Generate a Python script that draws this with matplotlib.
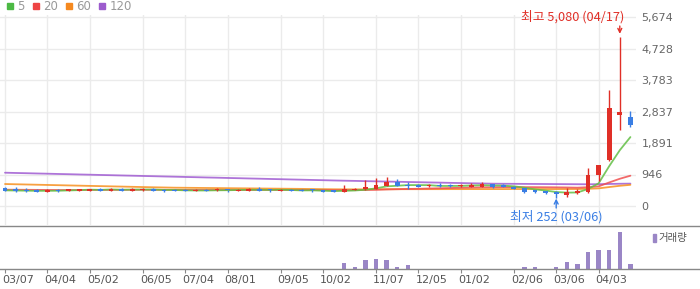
import matplotlib
matplotlib.use("Agg")
import matplotlib.pyplot as plt
import matplotlib.transforms as mtransforms
from matplotlib.lines import Line2D
from matplotlib.patches import Rectangle

plt.rcParams['font.family'] = ['DejaVu Sans']
KR = ['Noto Sans CJK KR', 'DejaVu Sans']

# ---------------- data (weekly candles) ----------------
opens = [540, 500, 480, 490, 430, 490, 460, 460, 460, 520, 460, 520, 460, 490, 520, 490,
         490, 490, 460, 490, 470, 480, 460, 460, 520, 480, 460, 490, 490, 490, 470, 470,
         420, 480, 500, 510, 600, 720, 640, 640, 590, 620, 620, 600, 580, 580, 660, 640,
         580, 530, 470, 440, 410, 340, 380, 430, 940, 1380, 2740, 2664]
highs = [560, 560, 530, 500, 500, 520, 520, 520, 520, 530, 530, 530, 530, 530, 530, 520,
         500, 500, 500, 500, 530, 490, 500, 530, 560, 520, 500, 500, 500, 500, 480, 480,
         630, 530, 780, 840, 880, 810, 720, 650, 650, 680, 650, 650, 680, 720, 670, 660,
         590, 540, 480, 450, 450, 550, 500, 1150, 1230, 3480, 5080, 2862]
lows = [440, 420, 410, 420, 420, 430, 450, 450, 450, 450, 450, 450, 450, 460, 450, 430,
        450, 450, 450, 450, 440, 420, 450, 450, 450, 430, 450, 450, 450, 430, 410, 410,
        410, 470, 490, 500, 590, 590, 510, 570, 560, 560, 560, 560, 570, 570, 550, 570,
        510, 400, 390, 370, 252, 280, 370, 400, 750, 1350, 2280, 2363]
closes = [450, 450, 460, 430, 490, 460, 500, 500, 500, 460, 520, 460, 520, 510, 460, 460,
          460, 460, 490, 460, 490, 470, 490, 520, 460, 470, 490, 460, 460, 470, 420, 420,
          510, 510, 580, 630, 720, 600, 610, 580, 620, 600, 600, 620, 640, 660, 560, 580,
          520, 430, 410, 380, 360, 420, 460, 930, 1230, 2940, 2820, 2430]
volumes = [0, 0, 0, 0, 0, 0, 0, 0, 0, 0, 0, 0, 0, 0, 0, 0,
           0, 0, 0, 0, 0, 0, 0, 0, 0, 0, 0, 0, 0, 0, 0, 0,
           570, 130, 830, 930, 830, 130, 330, 0, 0, 0, 0, 0, 0, 0, 0, 0,
           0, 130, 130, 0, 130, 670, 470, 1630, 1830, 1830, 3630, 470]

ma5 = [470, 465, 460, 455, 456, 458, 468, 476, 490, 484, 496, 488, 492, 494, 494, 482,
       482, 470, 466, 466, 472, 474, 480, 486, 486, 482, 486, 480, 468, 470, 460, 446,
       456, 466, 488, 530, 590, 608, 628, 628, 626, 602, 602, 604, 616, 624, 616, 612,
       592, 550, 500, 464, 420, 402, 406, 510, 680, 1196, 1676, 2070]
ma20 = [490, 488, 486, 484, 482, 480, 480, 481, 482, 483, 484, 485, 486, 486, 486, 485,
        484, 483, 482, 482, 482, 481, 481, 482, 482, 482, 482, 481, 480, 478, 476, 474,
        475, 477, 481, 486, 498, 505, 512, 517, 525, 533, 540, 548, 555, 562, 563, 567,
        568, 566, 565, 563, 560, 556, 550, 565, 590, 707, 818, 910]
ma60 = [660, 653, 646, 639, 632, 625, 618, 611, 604, 597, 590, 583, 576, 569, 562, 556,
        550, 547, 544, 541, 538, 535, 532, 529, 526, 523, 520, 517, 514, 510, 506, 502,
        500, 500, 501, 502, 503, 504, 505, 505, 506, 506, 507, 507, 508, 508, 508, 508,
        509, 509, 509, 509, 509, 510, 510, 517, 529, 569, 607, 636]
ma120 = [1000, 992, 985, 977, 970, 962, 955, 947, 940, 932, 925, 917, 910, 902, 895, 887,
         880, 872, 865, 857, 850, 842, 835, 827, 820, 812, 805, 797, 790, 782, 775, 767,
         760, 754, 747, 741, 734, 728, 721, 715, 708, 702, 695, 689, 682, 676, 670, 668,
         666, 664, 662, 660, 658, 656, 654, 652, 655, 662, 668, 672]

tick_pos = [0, 4, 8, 13, 17, 21, 26, 30, 35, 39, 43, 48, 52, 56]
tick_labels = ['03/07', '04/04', '05/02', '06/05', '07/04', '08/01', '09/05', '10/02',
               '11/07', '12/05', '01/02', '02/06', '03/06', '04/03']
y_ticks = [0, 946, 1891, 2837, 3783, 4728, 5674]
ma_labels = ['5', '20', '60', '120']

max_idx, max_val, max_text = 58, 5080, '최고 5,080 (04/17)'
min_idx, min_val, min_text = 52, 252, '최저 252 (03/06)'

# ---------------- style ----------------
RED = '#e02f27'
BLUE = '#3a7ee4'
MA_COLORS = ['#62bf45', '#f05050', '#f7901e', '#a05cd2']
LEG_COLORS = ['#4cb944', '#ee4444', '#f5891f', '#9c5bcd']
VOL = '#9a86c6'
GRID = '#ebebeb'

W, H = 700, 289
fig = plt.figure(figsize=(W / 100, H / 100), dpi=100)

px_per_unit = 31.5 / 946.0
zero_y = 206.0
step = 10.6
x0 = 5.0

def fy(py):
    return 1 - py / H

ax = fig.add_axes([0, fy(225), 636 / W, (225 - 15) / H])
ax.set_xlim(-x0 / step, (636 - x0) / step)
ax.set_ylim(-(225 - zero_y) / px_per_unit, (zero_y - 15) / px_per_unit)

for s in ax.spines.values():
    s.set_visible(False)
ax.set_xticks(tick_pos)
ax.set_xticklabels([])
ax.tick_params(axis='x', length=0)
ax.set_yticks(y_ticks)
ax.set_yticklabels([f'{v:,}' for v in y_ticks])
ax.yaxis.tick_right()
ax.tick_params(axis='y', length=0, pad=4, labelsize=8, labelcolor='#666666')
ax.grid(True, color=GRID, lw=1)
ax.set_axisbelow(True)

n = len(closes)
xs = list(range(n))

for vals, col in zip([ma120, ma60, ma20, ma5], MA_COLORS[::-1]):
    ax.plot(xs, vals, color=col, lw=1.3, alpha=0.85, zorder=2, solid_capstyle='round')

min_h = 0.9 / px_per_unit
for i in xs:
    o, h, l, c = opens[i], highs[i], lows[i], closes[i]
    col = RED if c >= o else BLUE
    ax.vlines(i, l, h, color=col, lw=1, zorder=3)
    bot = min(o, c)
    ht = max(abs(c - o), min_h)
    ax.bar(i, ht, bottom=bot, width=0.47, color=col, zorder=4, linewidth=0)

# max annotation
ax.annotate('', xy=(max_idx, max_val + 3 / px_per_unit), xytext=(max_idx, (zero_y - 26) / px_per_unit),
            arrowprops=dict(arrowstyle='->', color=RED, lw=1, shrinkA=0, shrinkB=0,
                            mutation_scale=7), zorder=5)
ax.text(max_idx + 0.4, (zero_y - 17) / px_per_unit, max_text, color=RED, fontsize=9.2,
        ha='right', va='center', family=KR)
# min annotation
ax.annotate('', xy=(min_idx, min_val - 1 / px_per_unit), xytext=(min_idx, (zero_y - 208) / px_per_unit),
            arrowprops=dict(arrowstyle='->', color=BLUE, lw=1, shrinkA=0, shrinkB=0,
                            mutation_scale=7), zorder=5)
ax.text(min_idx, (zero_y - 216.5) / px_per_unit, min_text, color=BLUE, fontsize=9.2,
        ha='center', va='center', family=KR)

# separator line
fig.add_artist(Line2D([0, 1], [fy(225.5), fy(225.5)], color='#888888', lw=1))

# MA legend
leg_sq_x = [7, 33, 66, 99]
leg_tx_x = [17, 43, 76, 110]
for sx, tx, col, lab in zip(leg_sq_x, leg_tx_x, LEG_COLORS, ma_labels):
    fig.add_artist(Rectangle((sx / W, fy(9)), 6 / W, 6 / H, color=col, transform=fig.transFigure))
    fig.text(tx / W, fy(6), lab, color='#999999', fontsize=8.5, ha='left', va='center')

# volume panel
axv = fig.add_axes([0, fy(268.5), 1, (268.5 - 226) / H])
axv.set_xlim(-x0 / step, (W - x0) / step)
axv.set_ylim(0, 4250)
for k in ['top', 'left', 'right']:
    axv.spines[k].set_visible(False)
axv.spines['bottom'].set_color('#888888')
axv.spines['bottom'].set_linewidth(1)
axv.bar(xs, volumes, width=0.42, color=VOL, linewidth=0)
axv.set_yticks([])
axv.set_xticks(tick_pos)
axv.set_xticklabels(tick_labels)
axv.tick_params(axis='x', length=3, color='#888888', labelsize=8, labelcolor='#555555', pad=1.5)
offset = mtransforms.ScaledTranslation(-3 / 100, 0, fig.dpi_scale_trans)
for lab in axv.get_xticklabels():
    lab.set_horizontalalignment('left')
    lab.set_transform(lab.get_transform() + offset)

fig.add_artist(Rectangle((653 / W, fy(242)), 3 / W, 8 / H, color=VOL, transform=fig.transFigure))
fig.text(658 / W, fy(238), '거래량', color='#555555', fontsize=7.5, ha='left', va='center', family=KR)

fig.savefig('out.png', dpi=100)
